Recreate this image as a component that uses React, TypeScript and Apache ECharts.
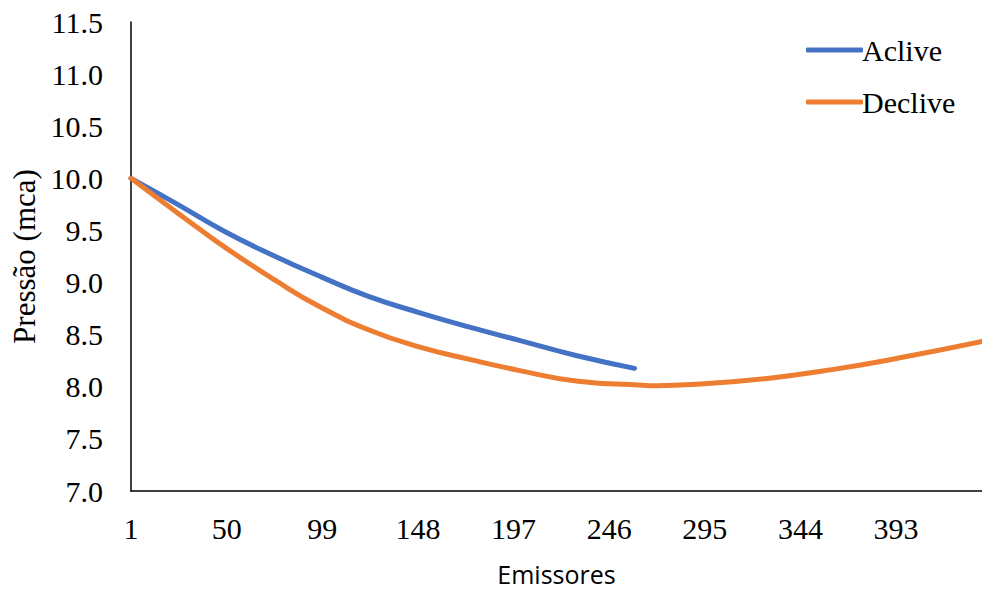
import React, { useEffect, useRef } from "react";
import * as echarts from "echarts";

const seriesNames = ["Aclive", "Declive"];
const yAxisTitle = "Pressão (mca)";
const xAxisTitle = "Emissores";
const lastEmitter = 437;
const tickStep = 49;
const acliveEmitters = [1, 24, 49, 75, 99, 123, 149, 175, 199, 229, 259];
const acliveValues = [10.0, 9.76, 9.49, 9.25, 9.05, 8.865, 8.71, 8.57, 8.45, 8.3, 8.177];
const decliveEmitters = [1, 24, 49, 75, 98, 123, 149, 175, 199, 229, 263, 270, 293, 327, 361, 395, 437];
const decliveValues = [10.0, 9.68, 9.34, 9.02, 8.765, 8.545, 8.38, 8.26, 8.16, 8.055, 8.015, 8.01, 8.027, 8.08, 8.167, 8.278, 8.435];
const yMin = 7.0;
const yMax = 11.5;
const yStep = 0.5;

const serif = "Liberation Serif";

function pairs(xs: number[], ys: number[]) {
  return xs.map((x, i) => [x - 1, ys[i]]);
}

export default function App() {
  const ref = useRef<HTMLDivElement>(null);
  useEffect(() => {
    document.body.style.margin = "0";
    const chart = echarts.init(ref.current!, null, { renderer: "svg" });
    chart.setOption({
      animation: false,
      backgroundColor: "#ffffff",
      grid: { left: 131, right: 0, top: 22, bottom: 102, containLabel: false, outerBoundsMode: "none" },
      graphic: [
        {
          type: "text",
          x: 24,
          y: 256.5,
          rotation: Math.PI / 2,
          style: {
            text: yAxisTitle,
            font: "31px 'Liberation Serif', 'Times New Roman', serif",
            fill: "#000",
            align: "center",
            verticalAlign: "middle",
          },
        },
      ],
      legend: {
        orient: "vertical",
        left: 801,
        top: 30,
        icon: "roundRect",
        itemWidth: 57,
        itemHeight: 5,
        itemGap: 22,
        data: seriesNames,
        textStyle: { fontFamily: serif, fontSize: 30, color: "#000", lineHeight: 30, padding: [0, 0, 0, -6] },
      },
      xAxis: {
        type: "value",
        min: 0,
        max: lastEmitter - 1,
        interval: tickStep,
        name: xAxisTitle,
        nameLocation: "middle",
        nameGap: 70,
        nameTextStyle: { fontFamily: "Open Sans", fontSize: 25, color: "#000" },
        axisLine: { show: true, lineStyle: { color: "#000", width: 1.5 } },
        axisTick: { show: false },
        splitLine: { show: false },
        axisLabel: {
          fontFamily: serif,
          fontSize: 30,
          color: "#000",
          margin: 22,
          showMaxLabel: false,
          formatter: (v: number) => String(v + 1),
        },
      },
      yAxis: {
        type: "value",
        min: yMin,
        max: yMax,
        interval: yStep,
        axisLine: { show: true, lineStyle: { color: "#000", width: 1.5 } },
        axisTick: { show: false },
        splitLine: { show: false },
        axisLabel: {
          fontFamily: serif,
          fontSize: 30,
          color: "#000",
          margin: 28,
          formatter: (v: number) => v.toFixed(1),
        },
      },
      series: [
        {
          name: seriesNames[0],
          type: "line",
          data: pairs(acliveEmitters, acliveValues),
          smooth: true,
          symbol: "none",
          color: "#4472C4",
          lineStyle: { width: 5, color: "#4472C4", cap: "round" },
        },
        {
          name: seriesNames[1],
          type: "line",
          data: pairs(decliveEmitters, decliveValues),
          smooth: true,
          symbol: "none",
          color: "#ED7D31",
          lineStyle: { width: 5, color: "#ED7D31", cap: "round" },
        },
      ],
    });
    return () => chart.dispose();
  }, []);
  return <div ref={ref} style={{ position: "absolute", left: 0, top: 0, width: 982, height: 593 }} />;
}
